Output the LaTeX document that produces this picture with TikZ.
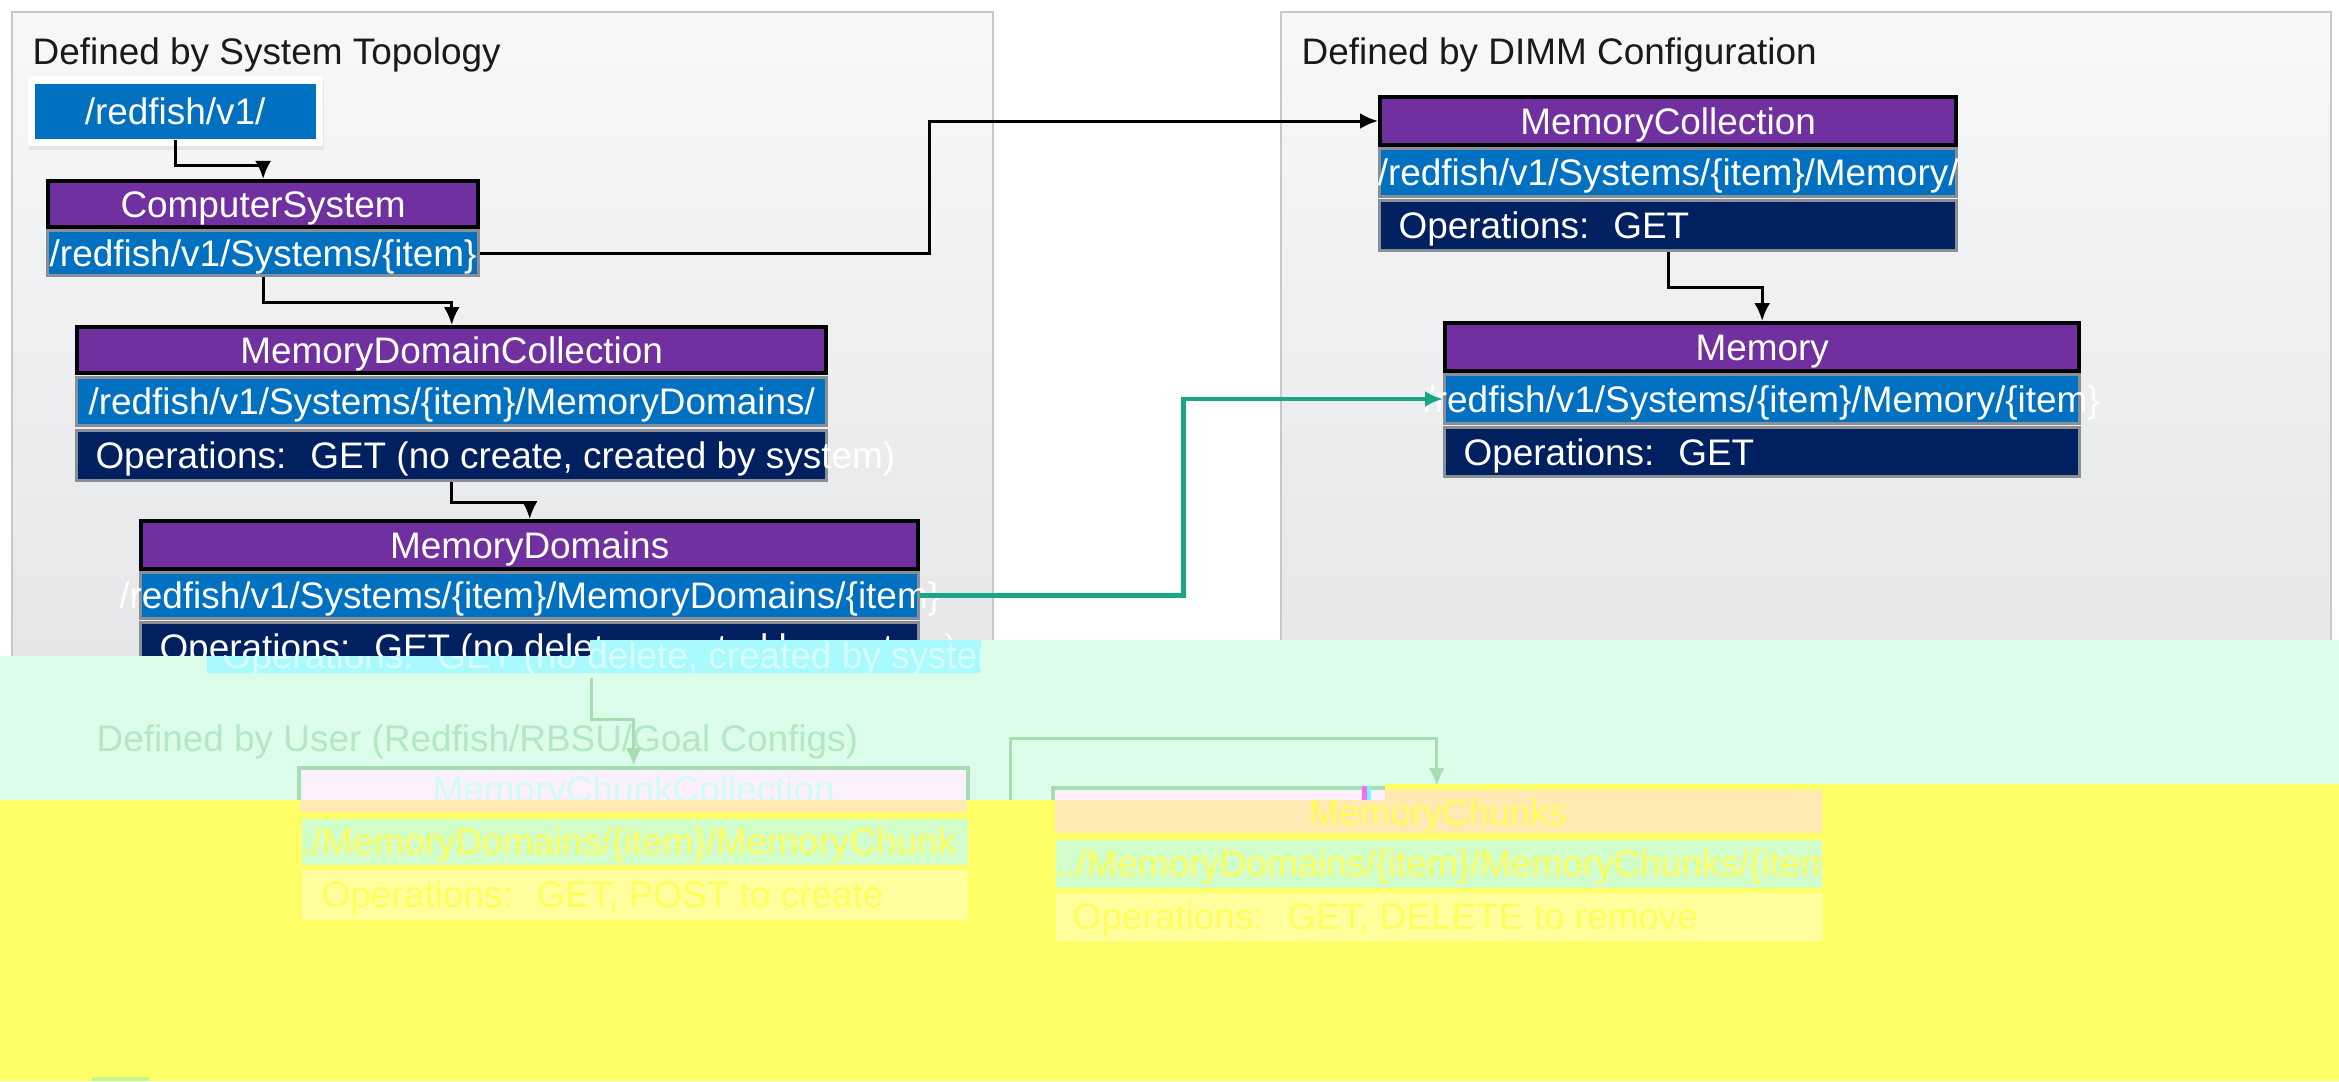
\documentclass[tikz,border=0pt]{standalone}
\usepackage{fontspec}
\setmainfont{Liberation Sans}
\usetikzlibrary{arrows.meta}

\definecolor{hdrpurple}{HTML}{7030A0}
\definecolor{uriblue}{HTML}{0070C0}
\definecolor{opsnavy}{HTML}{002060}
\definecolor{rowgrey}{HTML}{8A8F96}
\definecolor{linkgreen}{HTML}{1BA587}
\definecolor{panelline}{HTML}{C8C8C8}
\definecolor{panelTop}{HTML}{F8F8F9}
\definecolor{panelBot}{HTML}{E3E5E7}
\definecolor{titlegrey}{HTML}{1A1A1A}
% colours of the damaged lower part
\definecolor{mint}{HTML}{DCFDE9}
\definecolor{cyanbox}{HTML}{A8FAFE}
\definecolor{ghosttext}{HTML}{D8FEFE}
\definecolor{ghostgreen}{HTML}{A6DDB1}
\definecolor{ghosttitle}{HTML}{B2E8C2}
\definecolor{ghostcyan}{HTML}{CFFDF3}
\definecolor{lavender}{HTML}{FCF0FD}
\definecolor{peach}{HTML}{FFE9B3}
\definecolor{palegreen}{HTML}{D1FECA}
\definecolor{paleyellow}{HTML}{FFFF9E}
\definecolor{glitchyellow}{HTML}{FFFF66}
\definecolor{yellowtext}{HTML}{FFFF5A}
\definecolor{glitchmagenta}{HTML}{FF66FF}
\definecolor{glitchcyan}{HTML}{66FFFF}
\definecolor{glitchlime}{HTML}{BDFB83}

\begin{document}
\begin{tikzpicture}[x=0.01cm, y=-0.01cm,
    txt/.style={font=\fontsize{10.5}{12}\selectfont},
    cbox/.style={txt, anchor=north west, inner sep=0pt, text height=0.31cm, text depth=0.05cm, text=white},
    hdr/.style={cbox, draw=black, line width=0.04cm, fill=hdrpurple},
    urirow/.style={cbox, draw=rowgrey, line width=0.03cm, fill=uriblue},
    opsrow/.style={cbox, draw=rowgrey, line width=0.03cm, fill=opsnavy},
    ghostrow/.style={cbox, text=yellowtext},
    conn/.style={line width=0.03cm, -{Latex[length=0.18cm,width=0.16cm]}},
    greenconn/.style={conn, draw=linkgreen, line width=0.045cm},
    ghostconn/.style={conn, draw=ghostgreen},
    panel/.style={draw=panelline, line width=0.02cm, top color=panelTop, bottom color=panelBot}]
  \useasboundingbox[fill=white] (0,0) rectangle (2339,1081);

  % the two panels
  \draw[panel] (12,12) rectangle (993,700);
  \draw[panel] (1281,12) rectangle (2331,700);
  \node[txt, text=titlegrey, anchor=base west, inner sep=0pt] (topotitle) at (32,64) {Defined by System Topology};
  \node[txt, text=titlegrey, anchor=base west, inner sep=0pt] (dimmtitle) at (1301,64) {Defined by DIMM Configuration};

  % service root
  \fill[black!10] (29,80) rectangle (324,150);
  \node[anchor=north west, fill=white, inner sep=0pt, minimum width=2.95cm, minimum height=0.70cm] (rootframe) at (27,75) {};
  \node[urirow, draw=none, minimum width=2.81cm, minimum height=0.55cm] (root) at (33,82) {\makebox[0pt]{/redfish/v1/}};

  % system topology
  \node[hdr, minimum width=4.30cm, minimum height=0.46cm] (cs) at (46,179) {\makebox[0pt]{ComputerSystem}};
  \node[urirow, minimum width=4.31cm, minimum height=0.45cm] (csuri) at (46,229) {\makebox[0pt]{/redfish/v1/Systems/\{item\}}};

  \node[hdr, minimum width=7.49cm, minimum height=0.46cm] (mdc) at (75,325) {\makebox[0pt]{MemoryDomainCollection}};
  \node[urirow, minimum width=7.50cm, minimum height=0.48cm] (mdcuri) at (75,376) {\makebox[0pt]{/redfish/v1/Systems/\{item\}/MemoryDomains/}};
  \node[opsrow, minimum width=7.50cm, minimum height=0.50cm] (mdcops) at (75,429) {\makebox[7.50cm][l]{\hspace{0.19cm}Operations:~ GET (no create, created by system)}};

  \node[hdr, minimum width=7.77cm, minimum height=0.48cm] (md) at (139,519) {\makebox[0pt]{MemoryDomains}};
  \node[urirow, minimum width=7.78cm, minimum height=0.46cm] (mduri) at (139,571) {\makebox[0pt]{/redfish/v1/Systems/\{item\}/MemoryDomains/\{item\}}};
  \node[opsrow, minimum width=7.78cm, minimum height=0.49cm] (mdops) at (139,621) {\makebox[7.78cm][l]{\hspace{0.19cm}Operations:~ GET (no delete, created by system)}};

  % DIMM configuration
  \node[hdr, minimum width=5.76cm, minimum height=0.48cm] (mc) at (1378,95) {\makebox[0pt]{MemoryCollection}};
  \node[urirow, minimum width=5.77cm, minimum height=0.48cm] (mcuri) at (1378,147) {\makebox[0pt]{/redfish/v1/Systems/\{item\}/Memory/}};
  \node[opsrow, minimum width=5.77cm, minimum height=0.50cm] (mcops) at (1378,199) {\makebox[5.77cm][l]{\hspace{0.19cm}Operations:~ GET}};

  \node[hdr, minimum width=6.34cm, minimum height=0.48cm] (mem) at (1443,321) {\makebox[0pt]{Memory}};
  \node[urirow, minimum width=6.35cm, minimum height=0.49cm] (memuri) at (1443,373) {\makebox[0pt]{/redfish/v1/Systems/\{item\}/Memory/\{item\}}};
  \node[opsrow, minimum width=6.35cm, minimum height=0.49cm] (memops) at (1443,426) {\makebox[6.35cm][l]{\hspace{0.19cm}Operations:~ GET}};

  % links
  \draw[conn] (root.south) -- ++(0,25) -| (cs.north);
  \draw[conn] (csuri.south) -- ++(0,25) -| (mdc.north);
  \draw[conn] (mdcops.south) -- ++(0,20) -| (md.north);
  \draw[conn] (csuri.east) -- ++(449,0) |- (mc.west);
  \draw[conn] (mcops.south) -- ++(0,35) -| (mem.north);
  \draw[greenconn] (mduri.east) -- ++(263,0) |- (memuri.west);

  % damaged lower part
  \fill[mint] (0,656) -- (590,656) -- (590,640) -- (2339,640) -- (2339,784) -- (1385,784) -- (1385,800) -- (0,800) -- cycle;
  \fill[cyanbox] (207,656) -- (590,656) -- (590,640) -- (981,640) -- (981,673) -- (207,673) -- cycle;
  \begin{scope}
    \clip (207,656) -- (590,656) -- (590,640) -- (981,640) -- (981,673) -- (207,673) -- cycle;
    \node[txt, text=ghosttext, anchor=base west, inner sep=0pt] (ghostops) at (222,668) {Operations:~ GET (no delete, created by system)};
  \end{scope}

  \node[txt, text=ghosttitle, anchor=base west, inner sep=0pt] (usertitle) at (96,751) {Defined by User (Redfish/RBSU/Goal Configs)};
  \node[cbox, draw=ghostgreen, line width=0.04cm, fill=lavender, text=ghostcyan, minimum width=6.69cm, minimum height=0.42cm] (mcc) at (297,766) {\makebox[0pt]{MemoryChunkCollection}};
  \node[cbox, draw=ghostgreen, line width=0.04cm, fill=lavender, minimum width=7.67cm, minimum height=0.43cm] (mch) at (1051,786) {};

  \coordinate (mdcut) at (591,678);
  \coordinate (mcccut) at (1010,800);
  \draw[ghostconn] (mdcut) -- ++(0,41) -| (mcc.north);
  \draw[ghostconn] (mcccut) -- ++(0,-62) -| (mch.north);

  \fill[glitchyellow] (0,800) -- (1385,800) -- (1385,784) -- (2339,784) -- (2339,1081) -- (0,1081) -- cycle;

  \fill[peach] (300,800) rectangle (967,812);
  \node[ghostrow, fill=palegreen, minimum width=6.66cm, minimum height=0.46cm] (mccuri) at (301,818) {\makebox[6.66cm][l]{./MemoryDomains/\{item\}/MemoryChunk}};
  \node[ghostrow, fill=paleyellow, minimum width=6.66cm, minimum height=0.50cm] (mccops) at (301,869) {\makebox[6.66cm][l]{\hspace{0.2cm}Operations:~ GET, POST to create}};

  \fill[peach] (1055,800) -- (1385,800) -- (1385,790) -- (1822,790) -- (1822,833) -- (1055,833) -- cycle;
  \node[cbox, anchor=center, text=yellowtext] (mchtitle) at (1438,812) {MemoryChunks};
  \begin{scope}
    \clip (1055,839) rectangle (1822,887);
    \node[ghostrow, fill=palegreen, minimum width=7.67cm, minimum height=0.48cm] (mchuri) at (1055,839) {\makebox[7.67cm][l]{../MemoryDomains/\{item\}/MemoryChunks/\{item}};
  \end{scope}
  \node[ghostrow, fill=paleyellow, minimum width=7.67cm, minimum height=0.48cm] (mchops) at (1055,892) {\makebox[7.67cm][l]{\hspace{0.17cm}Operations:~ GET, DELETE to remove}};

  \fill[glitchmagenta] (1362,786) rectangle (1367,800);
  \fill[glitchcyan] (1367,786) rectangle (1371,800);
  \fill[glitchlime] (92,1077) rectangle (149,1081);
\end{tikzpicture}
\end{document}
